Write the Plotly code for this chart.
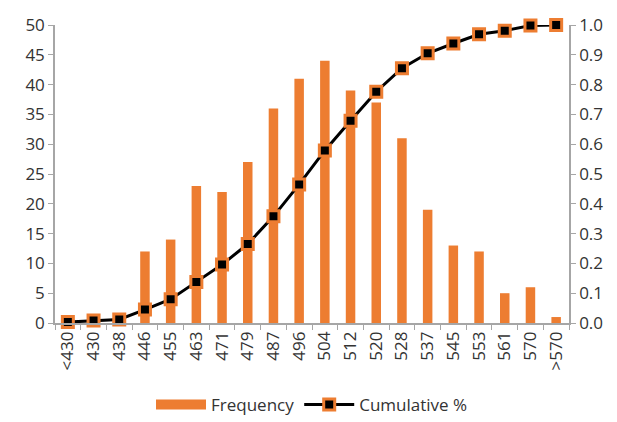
import plotly.graph_objects as go

# Score bins, counts per bin and cumulative share
categories = ["<430", "430", "438", "446", "455", "463", "471", "479", "487", "496",
              "504", "512", "520", "528", "537", "545", "553", "561", "570", ">570"]
frequency = [0, 0, 0, 12, 14, 23, 22, 27, 36, 41, 44, 39, 37, 31, 19, 13, 12, 5, 6, 1]
cumulative = [0.003, 0.008, 0.012, 0.045, 0.080, 0.138, 0.196, 0.265, 0.358, 0.465,
              0.579, 0.679, 0.776, 0.855, 0.905, 0.938, 0.969, 0.981, 0.998, 1.0]

ORANGE = "#ED7D31"
AXIS_GREY = "#A6A6A6"
TEXT = "#333333"
FONT = "Open Sans"

fig = go.Figure()

fig.add_trace(go.Bar(
    x=categories, y=frequency, name="Frequency", showlegend=False,
    marker=dict(color=ORANGE, line=dict(width=0)),
    width=0.37,
))

# wide flat swatch for the bar series in the legend
fig.add_trace(go.Scatter(
    x=[None], y=[None], name="Frequency", mode="lines",
    line=dict(color=ORANGE, width=10),
))

fig.add_trace(go.Scatter(
    x=categories, y=cumulative, name="Cumulative %", yaxis="y2",
    mode="lines+markers", cliponaxis=False,
    line=dict(color="black", width=3),
    marker=dict(symbol="square", size=11, color="black",
                line=dict(color=ORANGE, width=3)),
))

fig.update_layout(
    width=617, height=422,
    margin=dict(l=55, r=48, t=25, b=99, autoexpand=False),
    paper_bgcolor="white", plot_bgcolor="white",
    font=dict(family=FONT, size=17, color=TEXT),
    showlegend=True,
    legend=dict(orientation="h", x=0.5, xanchor="center", y=-0.215, yanchor="top",
                font=dict(size=17, color=TEXT), traceorder="normal",
                itemwidth=50),
    xaxis=dict(
        type="category", range=[-0.5, len(categories) - 0.5],
        tickangle=-90, showgrid=False, automargin=False,
        showline=True, linecolor=AXIS_GREY, linewidth=1.5,
        ticks="outside", ticklen=5, tickcolor=AXIS_GREY, tickson="boundaries",
        tickfont=dict(size=17, color=TEXT),
    ),
    yaxis=dict(
        range=[0, 50], dtick=5, showgrid=False, zeroline=False, automargin=False,
        showline=True, linecolor=AXIS_GREY, linewidth=1.5,
        ticks="outside", ticklen=5, tickcolor=AXIS_GREY,
        tickfont=dict(size=17, color=TEXT),
    ),
    yaxis2=dict(
        range=[0, 1], dtick=0.1, tickformat=".1f", overlaying="y", side="right",
        showgrid=False, zeroline=False, automargin=False,
        showline=True, linecolor=AXIS_GREY, linewidth=1.5,
        ticks="outside", ticklen=5, tickcolor=AXIS_GREY,
        tickfont=dict(size=17, color=TEXT),
    ),
)

fig.write_html("out.html")
